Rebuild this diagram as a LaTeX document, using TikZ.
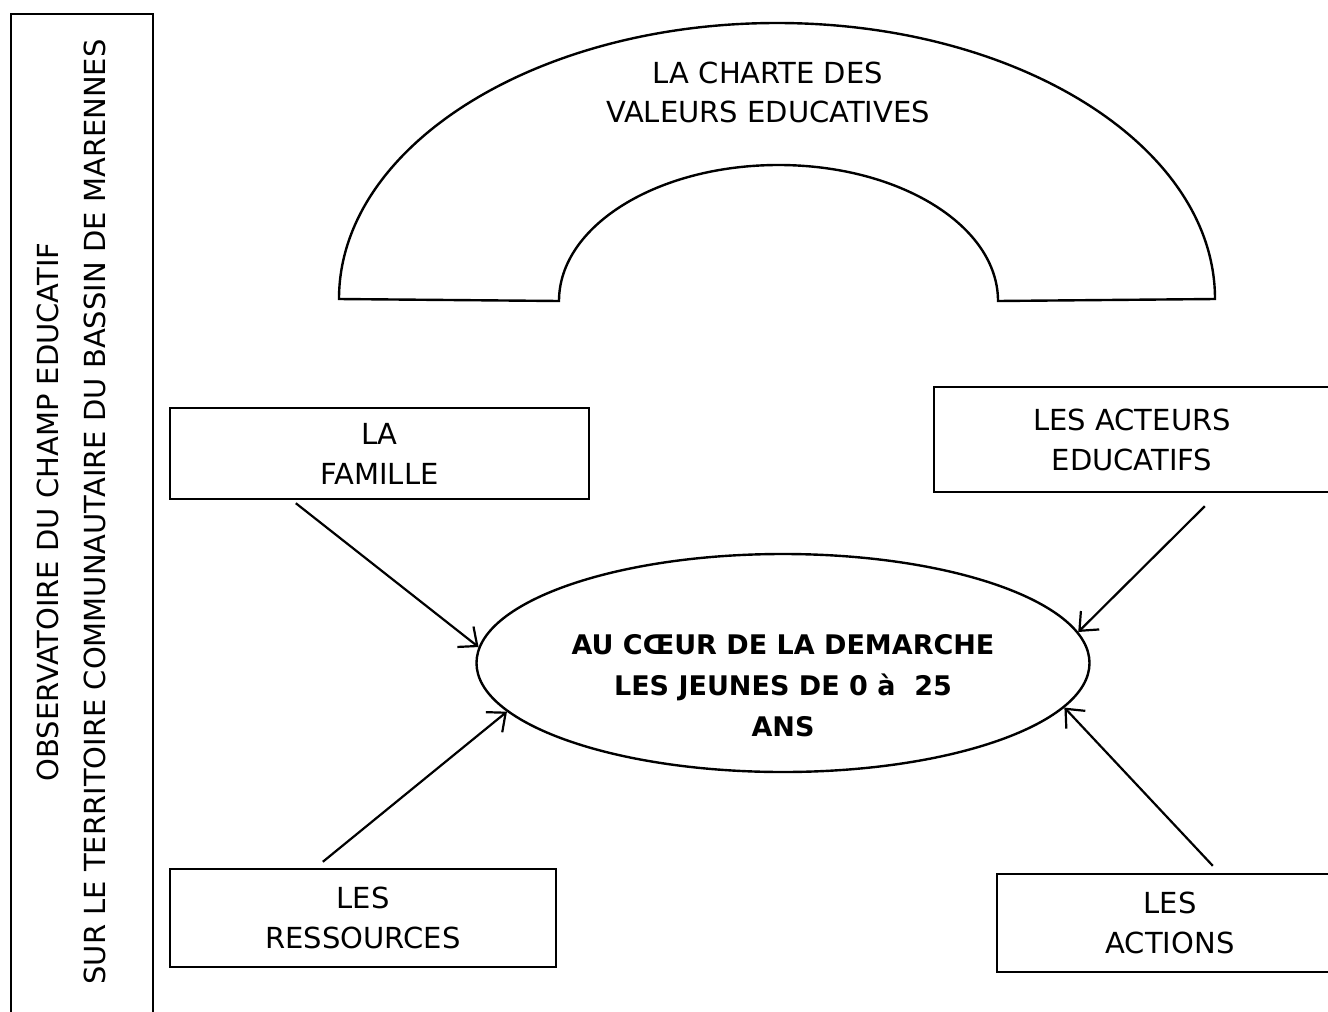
\documentclass[tikz,border=0pt]{standalone}
\usepackage{fontspec}
\setmainfont{DejaVu Sans}
\usetikzlibrary{arrows.meta,shapes.geometric}

\begin{document}
\begin{tikzpicture}[x=1pt,y=-1pt,line width=2.4pt,
    texte/.style={align=center, font=\fontsize{29}{40}\selectfont},
    boite/.style={texte, draw, rectangle, inner sep=0pt},
    fleche/.style={line width=2.2pt, -{Straight Barb[length=15pt,width=26pt]}}]

    % Fix the page
    \useasboundingbox (0,0) rectangle (1328,1012);

    % Draw the side frame and its title
    \node[draw, minimum width=142pt, minimum height=1016pt, inner sep=0pt] (cadre) at (82,522) {};
    \node[texte, rotate=90, font=\fontsize{29}{47}\selectfont] (titre) at (71,512)
        {OBSERVATOIRE DU CHAMP EDUCATIF\\SUR LE TERRITOIRE COMMUNAUTAIRE DU BASSIN DE MARENNES};

    % Draw the arch
    \draw (339,299) arc[start angle=180, end angle=360, x radius=438, y radius=276]
        -- (998,301) arc[start angle=0, end angle=-180, x radius=219.5, y radius=136] -- cycle;
    \node[texte, font=\fontsize{29}{39}\selectfont] (charte) at (768,92) {LA CHARTE DES\\VALEURS EDUCATIVES};

    % Draw the centre
    \node[ellipse, draw, minimum width=613pt, minimum height=218pt, inner sep=0pt] (coeur) at (783,663) {};
    \node[texte, font=\bfseries\fontsize{27}{41}\selectfont] (jeunes) at ([yshift=-23pt]coeur.center)
        {AU CŒUR DE LA DEMARCHE\\LES JEUNES DE 0 à~~25\\ANS};

    % Draw the boxes
    \node[boite, minimum width=419pt, minimum height=91pt] (famille) at (379.5,453.5) {LA\\FAMILLE};
    \node[boite, minimum width=396pt, minimum height=105pt] (acteurs) at (1132,439.5) {LES ACTEURS\\EDUCATIFS};
    \node[boite, minimum width=386pt, minimum height=98pt] (ressources) at (363,918) {LES\\RESSOURCES};
    \node[boite, minimum width=346pt, minimum height=98pt] (actions) at (1170,923) {LES\\ACTIONS};

    % Draw the arrows
    \draw[fleche] ([xshift=127pt,yshift=-3pt]famille.south west) -- (coeur.177);
    \draw[fleche] ([xshift=272pt,yshift=-13pt]acteurs.south west) -- (coeur.6);
    \draw[fleche] ([xshift=154pt,yshift=6pt]ressources.north west) -- (coeur.190);
    \draw[fleche] ([xshift=217pt,yshift=7pt]actions.north west) -- (coeur.351);

\end{tikzpicture}
\end{document}
